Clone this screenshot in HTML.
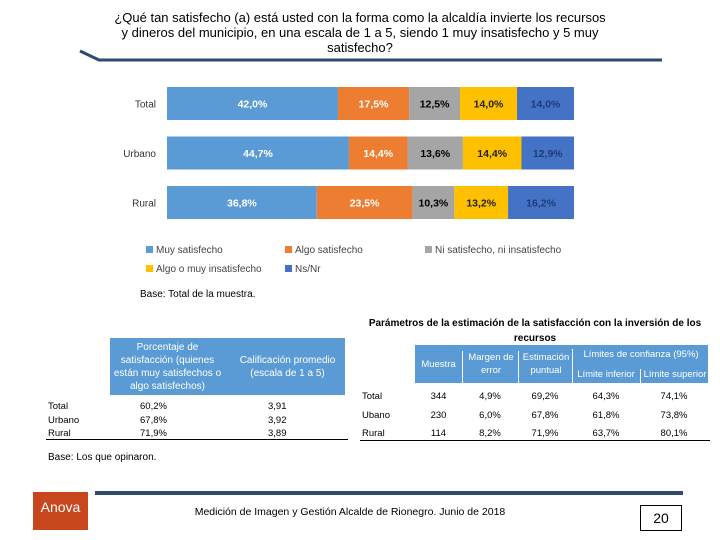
<!DOCTYPE html>
<html><head><meta charset="utf-8"><style>
body{margin:0;background:#fff;font-family:"Liberation Sans",sans-serif;}
#wrap{position:relative;width:720px;height:540px;overflow:hidden;}
.abs{position:absolute;}
</style></head><body>
<div id="wrap">
<div class="abs" style="left:110px;top:10px;width:500px;text-align:center;font-family:'Liberation Sans Narrow','Liberation Sans',sans-serif;font-size:13px;line-height:15px;color:#000;">¿Qué tan satisfecho (a) está usted con la forma como la alcaldía invierte los recursos y dineros del municipio, en una escala de 1 a 5, siendo 1 muy insatisfecho y 5 muy satisfecho?</div>
<svg class="abs" style="left:0;top:0" width="720" height="540">
<polyline points="80,51 99,60 662,60" fill="none" stroke="#2e4a6e" stroke-width="3"/>
<g id="bars"></g>
<line x1="95" y1="493" x2="683" y2="493" stroke="#2e4a6e" stroke-width="4"/>
</svg>
<div class="abs" style="left:140px;top:289px;font-size:10px;">Base: Total de la muestra.</div>

<div class="abs" style="left:46px;top:338px;width:302px;font-size:9.5px;">
<div style="position:absolute;left:64px;top:0;width:235px;height:57px;background:#5b9bd5;color:#fff;font-size:10px;">
<div style="position:absolute;left:0;top:3px;width:115px;text-align:center;line-height:13px;">Porcentaje de satisfacción (quienes están muy satisfechos o algo satisfechos)</div>
<div style="position:absolute;left:120px;top:16px;width:115px;text-align:center;line-height:13px;">Calificación promedio (escala de 1 a 5)</div></div>
<div style="position:absolute;top:62px;left:2px;line-height:13.5px;">Total<br>Urbano<br>Rural</div>
<div style="position:absolute;top:62px;left:94px;line-height:13.5px;">60,2%<br>67,8%<br>71,9%</div>
<div style="position:absolute;top:62px;left:222px;line-height:13.5px;">3,91<br>3,92<br>3,89</div>
<div style="position:absolute;top:101px;left:0;width:302px;border-top:1px solid #000;"></div>
</div>

<div class="abs" style="left:362px;top:316px;width:346px;text-align:center;font-size:10px;font-weight:bold;line-height:15px;">Parámetros de la estimación de la satisfacción con la inversión de los recursos</div>
<div class="abs" style="left:360px;top:345px;width:350px;font-size:9.5px;">
<div style="position:absolute;left:55px;top:0;width:293px;height:38px;background:#5b9bd5;color:#fff;">
<div style="position:absolute;left:0;top:14px;width:47px;text-align:center;">Muestra</div>
<div style="position:absolute;left:47px;top:6px;width:56px;text-align:center;line-height:13px;border-left:1px solid #fff;height:32px;">Margen de error</div>
<div style="position:absolute;left:103px;top:6px;width:54px;text-align:center;line-height:13px;border-left:1px solid #fff;height:32px;">Estimación puntual</div>
<div style="position:absolute;left:157px;top:4px;width:136px;text-align:center;border-left:1px solid #fff;height:34px;">Límites de confianza (95%)</div>
<div style="position:absolute;left:157px;top:24px;width:68px;text-align:center;">Límite inferior</div>
<div style="position:absolute;left:225px;top:24px;width:68px;text-align:center;border-left:1px solid #fff;height:14px;">Límite superior</div></div>
<div style="position:absolute;top:43px;left:2px;line-height:18.5px;">Total<br>Ubano<br>Rural</div>
<div style="position:absolute;top:43px;left:55px;width:47px;text-align:center;line-height:18.5px;">344<br>230<br>114</div>
<div style="position:absolute;top:43px;left:102px;width:56px;text-align:center;line-height:18.5px;">4,9%<br>6,0%<br>8,2%</div>
<div style="position:absolute;top:43px;left:158px;width:54px;text-align:center;line-height:18.5px;">69,2%<br>67,8%<br>71,9%</div>
<div style="position:absolute;top:43px;left:212px;width:68px;text-align:center;line-height:18.5px;">64,3%<br>61,8%<br>63,7%</div>
<div style="position:absolute;top:43px;left:280px;width:68px;text-align:center;line-height:18.5px;">74,1%<br>73,8%<br>80,1%</div>
<div style="position:absolute;top:95px;left:0;width:350px;border-top:1px solid #000;"></div>
</div>
<div class="abs" style="left:48px;top:452px;font-size:10px;">Base: Los que opinaron.</div>

<div class="abs" style="left:33px;top:492px;width:55px;height:38px;background:#c8461e;color:#fff;font-size:14px;text-align:center;line-height:30px;">Anova</div>
<div class="abs" style="left:150px;top:506px;width:400px;text-align:center;font-size:10.5px;">Medición de Imagen y Gestión Alcalde de Rionegro. Junio de 2018</div>
<div class="abs" style="left:640px;top:505px;width:40px;height:24px;border:1px solid #000;text-align:center;line-height:24px;font-size:14px;">20</div>
</div>
<script>
const categories=["Total","Urbano","Rural"];
const series=["Muy satisfecho","Algo satisfecho","Ni satisfecho, ni insatisfecho","Algo o muy insatisfecho","Ns/Nr"];
const muy=[42.0,44.7,36.8];
const algo=[17.5,14.4,23.5];
const ni=[12.5,13.6,10.3];
const insat=[14.0,14.4,13.2];
const nsnr=[14.0,12.9,16.2];
const values=[muy,algo,ni,insat,nsnr];
const colors=["#5b9bd5","#ed7d31","#a5a5a5","#ffc000","#4472c4"];
const textColors=["#fff","#fff","#000","#222","#1f3b7a"];
const NS="http://www.w3.org/2000/svg";
const g=document.getElementById("bars");
const x0=167,x1=574;
const xs=v=>x0+(x1-x0)*v/100;
const ys=i=>87+i*49.5;
const bh=33;
function mk(t,a){const e=document.createElementNS(NS,t);for(const k in a)e.setAttribute(k,a[k]);return e;}
categories.forEach((c,i)=>{
  const lb=mk("text",{x:156,y:ys(i)+bh/2+4,"text-anchor":"end","font-size":"10","fill":"#333","font-family":"Liberation Sans, sans-serif"});
  
  
  lb.textContent=c;g.appendChild(lb);
  let acc=0;
  values.forEach((arr,s)=>{
    const v=arr[i];
    const r=mk("rect",{x:xs(acc),y:ys(i),width:xs(acc+v)-xs(acc),height:bh,fill:colors[s]});
    
    
    g.appendChild(r);
    const t=mk("text",{x:(xs(acc)+xs(acc+v))/2,y:ys(i)+bh/2+4,"text-anchor":"middle","font-size":"10.5","font-weight":"bold","fill":textColors[s],"font-family":"Liberation Sans, sans-serif"});
    
    
    t.textContent=v.toFixed(1).replace(".",",")+"%";g.appendChild(t);
    acc+=v;
  });
});
const legPos=[[146,250],[285,250],[425,250],[146,269],[285,269]];
series.forEach((s,k)=>{
  const [lx,ly]=legPos[k];
  const r=mk("rect",{x:lx,y:ly-4,width:7,height:7,fill:colors[k]});
  
  
  g.appendChild(r);
  const t=mk("text",{x:lx+10,y:ly+3,"font-size":"10","fill":"#444","font-family":"Liberation Sans, sans-serif"});
  
  
  t.textContent=s;g.appendChild(t);
});
</script>
</body></html>
